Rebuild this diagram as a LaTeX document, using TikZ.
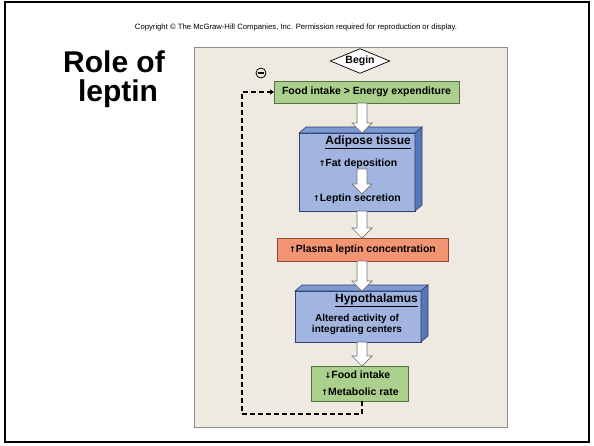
\documentclass[tikz,border=0pt]{standalone}
\usepackage{fontspec}
\setmainfont{Liberation Sans}
\newfontfamily\arrowfont{DejaVu Sans}
\usetikzlibrary{calc,shapes.geometric,arrows.meta}
\definecolor{panelbg}{HTML}{EEE9E1}
\definecolor{boxgreen}{HTML}{ABCF8C}
\definecolor{edgegreen}{HTML}{55703A}
\definecolor{boxblue}{HTML}{A2B4E0}
\definecolor{topblue}{HTML}{7E9AD3}
\definecolor{sideblue}{HTML}{5877B8}
\definecolor{edgeblue}{HTML}{2F3F6E}
\definecolor{boxorange}{HTML}{F39472}
\definecolor{edgeorange}{HTML}{8A4A33}
\def\arrup{{\arrowfont\fontsize{8}{8}\selectfont ↑}}
\def\arrdown{{\arrowfont\fontsize{8}{8}\selectfont ↓}}
\def\fatarrow(#1)(#2){\draw[fatarrow] ($(#1)+(-5,0)$) -- ($(#2)+(-5,-10)$) -- ($(#2)+(-10,-10)$) -- (#2) -- ($(#2)+(10,-10)$) -- ($(#2)+(5,-10)$) -- ($(#1)+(5,0)$) -- cycle;}
\def\solidbox(#1)(#2){%
	\draw[fill=topblue, draw=edgeblue, line width=0.6] (#1.north west) -- ++(#2) -- ($(#1.north east)+(#2)$) -- (#1.north east) -- cycle;
	\draw[fill=sideblue, draw=edgeblue, line width=0.6] (#1.north east) -- ++(#2) -- ($(#1.south east)+(#2)$) -- (#1.south east) -- cycle;}

\begin{document}
\begin{tikzpicture}[x=1pt, y=-1pt,
	txt/.style={font=\bfseries\fontsize{10.5}{12}\selectfont, inner sep=0},
	head/.style={font=\bfseries\fontsize{12}{14}\selectfont, inner sep=0, anchor=east},
	greenbox/.style={draw=edgegreen, fill=boxgreen, line width=0.8, inner sep=0, outer sep=0},
	bluebox/.style={draw=edgeblue, fill=boxblue, line width=0.6, inner sep=0, outer sep=0},
	fatarrow/.style={draw=black!55, fill=white, line width=0.7},
	feedback/.style={line width=2, dash pattern=on 5pt off 3pt, -{Triangle[length=4pt,width=5pt]}}]
	%%%%% START %%%%%
	
	\useasboundingbox (0,0) rectangle (594,445);
	\draw[line width=2] (5,2) rectangle (589,442);
	
	\node[font=\fontsize{7.7}{8}\selectfont, inner sep=0] (copy) at (296,28) {Copyright \textcopyright\ The McGraw-Hill Companies, Inc. Permission required for reproduction or display.};
	\node[font=\bfseries\fontsize{30}{29}\selectfont, inner sep=0] (role) at (114,62) {Role of};
	\node[font=\bfseries\fontsize{30}{29}\selectfont, inner sep=0] (leptin) at (118,94) {leptin};
	
	\draw[fill=panelbg, draw=black!45, line width=0.8] (194,47) rectangle (507,427);
	
	\coordinate (ax) at (362,0);
	\coordinate (loop) at (242,0);
	
	\node[diamond, draw, fill=white, line width=0.7, aspect=2.4, inner sep=1, minimum width=53, minimum height=22, font=\bfseries\fontsize{10.5}{12}\selectfont] (begin) at (360,61) {Begin};
	\node[greenbox, txt, minimum width=185, minimum height=22] (food) at (366.5,92) {Food intake > Energy expenditure};
	
	% adipose tissue
	\node[bluebox, minimum width=116, minimum height=78] (adipose) at (357,172) {};
	\solidbox(adipose)(7,-6)
	\node[head] (adhead) at (411,142) {\underline{Adipose tissue}};
	\node[txt] (fat) at (358,164) {\arrup Fat deposition};
	\node[txt] (secr) at (357,199) {\arrup Leptin secretion};
	
	\node[draw=edgeorange, fill=boxorange, line width=0.8, txt, outer sep=0, minimum width=171, minimum height=23] (plasma) at (362.5,249.5) {\arrup Plasma leptin concentration};
	
	% hypothalamus
	\node[bluebox, minimum width=126, minimum height=51] (hypo) at (358,316.5) {};
	\solidbox(hypo)(7,-6)
	\node[head] (hyhead) at (418,300) {\underline{Hypothalamus}};
	\node[txt, font=\bfseries\fontsize{10}{11}\selectfont, align=center] (centers) at (357,324) {Altered activity of\\integrating centers};
	
	\node[greenbox, minimum width=97, minimum height=35] (result) at (359.5,383.5) {};
	\node[txt] (eat) at (357.5,375) {\arrdown Food intake};
	\node[txt] (rate) at (360,392) {\arrup Metabolic rate};
	
	\fatarrow(ax |- food.south)(ax |- adipose.north)
	\fatarrow(ax |- fat.south)(ax |- secr.north)
	\fatarrow(ax |- adipose.south)(ax |- plasma.north)
	\fatarrow(ax |- plasma.south)(ax |- hypo.north)
	\fatarrow(ax |- hypo.south)(ax |- result.north)
	
	\draw[feedback] (ax |- result.south) -- ++(0,13) -| (loop |- food.west) -- (food.west);
	\node[circle, draw, line width=0.8, minimum size=10, inner sep=0] (minus) at (261,73) {};
	\draw[line width=1.2] ($(minus.west)+(2,0)$) -- ($(minus.east)+(-2,0)$);
	
	%%%%% END %%%%%
\end{tikzpicture}
\end{document}
